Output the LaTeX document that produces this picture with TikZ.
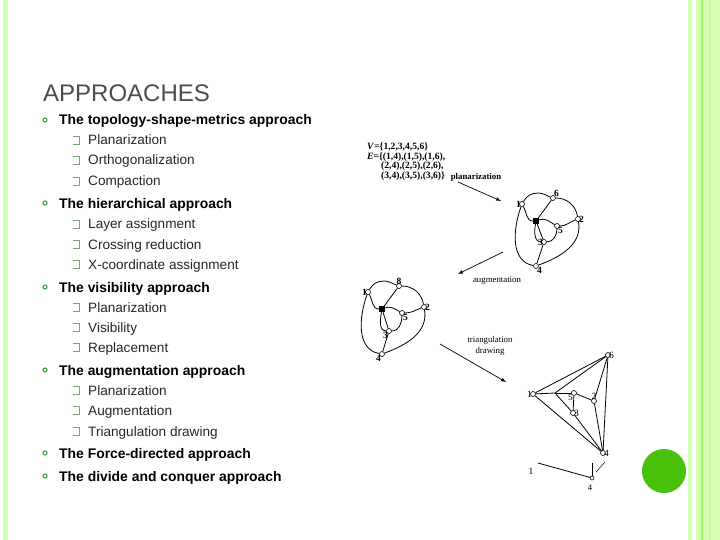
\documentclass[tikz,border=0pt]{standalone}
\usepackage{fontspec}
\setmainfont{Liberation Sans}
\newfontfamily\serifg{Liberation Serif}
\begin{document}
\begin{tikzpicture}[x=1pt,y=-1pt,
  hd/.style={anchor=base west,font=\fontsize{13.9}{15}\selectfont\bfseries,text=black,inner sep=0pt},
  sb/.style={anchor=base west,font=\fontsize{13.6}{15}\selectfont,text=black!85,inner sep=0pt},
  bul/.style={circle,draw=green!50!black!70,line width=1.2pt,inner sep=0pt,minimum size=4pt},
  sqc/.style={draw=green!40!black!55,line width=0.8pt},
  v/.style={circle,draw,fill=white,inner sep=0pt,minimum size=5pt,line width=0.6pt},
  xs/.style={rectangle,fill=black,inner sep=0pt,minimum size=6pt},
  lab/.style={font=\serifg\fontsize{9.5}{10}\selectfont\bfseries,inner sep=1pt},
  ed/.style={line width=0.8pt},
  ar/.style={line width=0.7pt,-latex}]
\useasboundingbox (0,0) rectangle (720,540);
\fill[green!40!lime!30] (3,0) rectangle (8,540);
\fill[green!40!lime!30] (688,0) rectangle (692,540);
\fill[green!40!lime!30] (696,0) rectangle (720,540);
\draw[green!50!lime!60,line width=1.2pt] (702,0) -- (702,540);
\draw[green!50!lime!50,line width=0.8pt] (709,0) -- (709,540);
\node[anchor=base west,font=\fontsize{24}{26}\selectfont,text=black!70,inner sep=0pt] (title) at (43,102) {APPROACHES};
% bullets
\foreach \y/\t [count=\i] in {120/The topology-shape-metrics approach,203/The hierarchical approach,287/The visibility approach,370/The augmentation approach,453/The Force-directed  approach,476/The divide and conquer approach}{
  \node[bul] (b\i) at (45,\y) {};
  \node[hd] (h\i) at (59,\y+5) {\t};}
\foreach \y/\t [count=\i] in {140/Planarization,160/Orthogonalization,181/Compaction,224/Layer assignment,244/Crossing reduction,264/X-coordinate assignment,307/Planarization,327/Visibility,347/Replacement,390/Planarization,410/Augmentation,431/Triangulation drawing}{
  \draw[sqc] (73,\y-4) -- (79,\y-4) -- (79,\y+4) -- (73,\y+4);
  \node[sb] (s\i) at (88,\y+5) {\t};}
% set text
\node[anchor=north west,font=\serifg\fontsize{9.6}{9.5}\selectfont\bfseries,align=left,inner sep=0pt] (vset) at (367,143)
 {\textit{V}=\{1,2,3,4,5,6\}\\\textit{E}=\{(1,4),(1,5),(1,6),\\\hspace*{14pt}(2,4),(2,5),(2,6),\\\hspace*{14pt}(3,4),(3,5),(3,6)\}};
% graph 1
\node[v] (a1) at (522,204) {}; \node[v] (a6) at (553,198) {};
\node[v] (a2) at (578,219) {}; \node[v] (a5) at (557,226) {};
\node[v] (a3) at (544,242) {}; \node[v] (a4) at (536,266) {};
\node[xs] (ax) at (536,221) {};
\draw[ed] (a1) to[out=60,in=180] (538,193) to[out=0,in=160] (a6);
\draw[ed] (a6) to[out=0,in=100] (a2);
\draw[ed] (a2) to[out=-80,in=20] (a4);
\draw[ed] (a1) to[out=-110,in=170] (a4);
\draw[ed] (a1) to[out=-60,in=180] (ax);
\draw[ed] (a6) -- (ax); \draw[ed] (ax) -- (a3);
\draw[ed] (ax) to[out=20,in=150] (a5);
\draw[ed] (ax) to[out=-100,in=180] (a3);
\draw[ed] (a3) to[out=0,in=-90] (a5);
\draw[ed] (a5) to[out=0,in=-160] (a2);
\draw[ed] (a3) -- (a4);
\foreach \n/\p/\t in {a1/left/1,a6/above right/6,a2/right/2,a5/below right/5,a3/left/3,a4/below right/4}
  \node[lab,\p] at (\n) {\t};
% graph 2
\node[v] (b1) at (368,292) {}; \node[v] (b6) at (399,286) {};
\node[v] (b2) at (424,307) {}; \node[v] (b5) at (402,313) {};
\node[v] (b3) at (389,331) {}; \node[v] (b4) at (382,354) {};
\node[xs] (bx) at (382,309) {};
\draw[ed] (b1) to[out=60,in=180] (384,281) to[out=0,in=160] (b6);
\draw[ed] (b6) to[out=0,in=100] (b2);
\draw[ed] (b2) to[out=-80,in=20] (b4);
\draw[ed] (b1) to[out=-110,in=170] (b4);
\draw[ed] (b1) to[out=-60,in=180] (bx);
\draw[ed] (b6) -- (bx); \draw[ed] (bx) -- (b3);
\draw[ed] (bx) to[out=20,in=150] (b5);
\draw[ed] (bx) to[out=-100,in=180] (b3);
\draw[ed] (b3) to[out=0,in=-90] (b5);
\draw[ed] (b5) to[out=0,in=-160] (b2);
\draw[ed] (b3) -- (b4);
\foreach \n/\p/\t in {b1/left/1,b6/above/8,b2/right/2,b5/below right/5,b3/below left/3,b4/below left/4}
  \node[lab,\p] at (\n) {\t};
% graph 3
\node[v] (c1) at (533,394) {}; \node[v] (c6) at (608,355) {};
\node[v] (c2) at (594,401) {}; \node[v] (c5) at (574,393) {};
\node[v] (c3) at (573,413) {}; \node[v] (c4) at (603,453) {};
\coordinate (cp) at (555,393);
\draw[ed] (c1) -- (c6); \draw[ed] (c1) -- (c4); \draw[ed] (c1) -- (cp);
\draw[line width=0.4pt] (cp) -- (c5);
\draw[ed] (cp) -- (c6); \draw[ed] (cp) -- (c3);
\draw[ed] (c3) -- (c4); \draw[ed] (c5) -- (c3); \draw[ed] (c5) -- (c2);
\draw[ed] (c2) -- (c6); \draw[ed] (c2) -- (c4); \draw[ed] (c6) -- (c4);
\foreach \n/\p/\t in {c1/left/1,c6/right/6,c2/above/2,c5/below left/5,c3/right/3,c4/right/4}
  \node[lab,\p,font=\serifg\fontsize{9.5}{10}\selectfont] at (\n) {\t};
% fragment
\node[v,minimum size=4pt] (d4) at (592,478) {};
\coordinate (d1) at (538,463); \coordinate (dt) at (592,463);
\coordinate (ds1) at (596,472); \coordinate (ds2) at (605,462);
\draw[ed] (d1) -- (d4); \draw[ed] (d4) -- (dt); \draw[line width=0.5pt] (ds1) -- (ds2);
\node[font=\serifg\fontsize{9.5}{10}\selectfont] (d1l) at (531,471) {1};
\node[font=\serifg\fontsize{8.5}{10}\selectfont] (d4l) at (590,488) {4};
% arrows
\coordinate (p1) at (458,182); \coordinate (p2) at (501,201);
\draw[ar] (p1) -- (p2);
\node[lab,font=\serifg\fontsize{8.8}{9}\selectfont\bfseries] (pl) at (476,177) {planarization};
\coordinate (g1) at (503,252); \coordinate (g2) at (458,274);
\draw[ar] (g1) -- (g2);
\node[lab,font=\serifg\fontsize{8.8}{9}\selectfont] (gl) at (497,281) {augmentation};
\coordinate (t1) at (440,344); \coordinate (t2) at (506,382);
\draw[ar] (t1) -- (t2);
\node[lab,font=\serifg\fontsize{8.8}{10.5}\selectfont,align=center] (tl) at (490,346) {triangulation\\drawing};
% green dot
\fill[green!55!lime!75!black!95] (664,471) circle (22);
\end{tikzpicture}
\end{document}
